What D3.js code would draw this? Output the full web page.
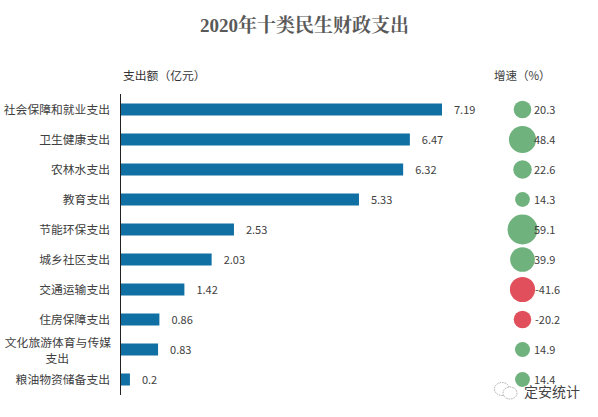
<!DOCTYPE html>
<html><head><meta charset="utf-8">
<script src="https://cdn.jsdelivr.net/npm/d3@7/dist/d3.min.js"></script>
<style>html,body{margin:0;padding:0;background:#fff}svg{display:block}</style></head>
<body><svg id="c" width="598" height="417"></svg>
<script>
const categories=["社会保障和就业支出","卫生健康支出","农林水支出","教育支出","节能环保支出","城乡社区支出","交通运输支出","住房保障支出","文化旅游体育与传媒支出","粮油物资储备支出"];
const spending=[7.19,6.47,6.32,5.33,2.53,2.03,1.42,0.86,0.83,0.2];
const growth=[20.3,48.4,22.6,14.3,59.1,39.9,-41.6,-20.2,14.9,14.4];
const titleText="2020年十类民生财政支出";
const font='"Noto Sans CJK SC","Liberation Sans",sans-serif';
const svg=d3.select("#c");
const x=d3.scaleLinear().domain([0,7.19]).range([121,442]);
const y=d3.scaleBand().domain(categories).range([94.5,394.5]);
const r=d3.scaleSqrt().domain([0,59.1]).range([0,15]);
svg.append("text").attr("x",304.5).attr("y",32).attr("text-anchor","middle")
 .attr("font-family",'"Liberation Serif","Noto Serif CJK SC","Noto Sans CJK SC",serif').attr("font-weight","bold").attr("font-size",19).attr("fill","#595959").text(titleText);
svg.append("text").attr("x",123).attr("y",80).attr("font-family",font).attr("font-size",11.8).attr("fill","#333").text("支出额（亿元）");
svg.append("text").attr("x",494).attr("y",80).attr("font-family",font).attr("font-size",11.5).attr("fill","#404040").text("增速（%）");
svg.selectAll(".bar").data(categories).join("rect").attr("class","bar")
 .attr("x",x(0)).attr("y",d=>y(d)+y.bandwidth()/2-6).attr("height",12)
 .attr("width",(d,i)=>x(spending[i])-x(0)).attr("fill","#106fa3");
svg.append("line").attr("x1",120.5).attr("x2",120.5).attr("y1",94).attr("y2",395).attr("stroke","#222").attr("stroke-width",1);
const labelX=110;
svg.selectAll(".cat").data(categories).join("text").attr("class","cat")
 .attr("text-anchor","end").attr("font-family",font).attr("font-size",11.8).attr("fill","#404040")
 .each(function(d){
  const t=d3.select(this),cy=y(d)+y.bandwidth()/2;
  if(d.length>10){
    t.append("tspan").attr("x",111).attr("y",cy-3).text(d.slice(0,9));
    t.append("tspan").attr("x",69).attr("y",cy+13).text(d.slice(9));
  } else t.append("tspan").attr("x",labelX).attr("y",cy+4.5).text(d);
 });
svg.selectAll(".val").data(categories).join("text").attr("class","val")
 .attr("x",(d,i)=>x(spending[i])+12).attr("y",d=>y(d)+y.bandwidth()/2+4.5)
 .attr("font-family",font).attr("font-size",11).attr("fill","#404040").text((d,i)=>spending[i]);
svg.selectAll(".dot").data(categories).join("circle").attr("class","dot")
 .attr("cx",522.5).attr("cy",d=>y(d)+y.bandwidth()/2)
 .attr("r",(d,i)=>r(Math.abs(growth[i]))).attr("fill",(d,i)=>growth[i]<0?"#e04f5b":"#70b27d");
svg.selectAll(".gr").data(categories).join("text").attr("class","gr")
 .attr("x",(d,i)=>growth[i]<0?535:534).attr("y",d=>y(d)+y.bandwidth()/2+4.5)
 .attr("font-family",font).attr("font-size",11).attr("fill","#404040").text((d,i)=>growth[i]);
// watermark
const wm=svg.append("g").attr("fill","#fff").attr("stroke","#888").attr("stroke-width",.7).attr("stroke-dasharray","1.5 1");
wm.append("ellipse").attr("cx",502).attr("cy",389).attr("rx",7.5).attr("ry",6.5);
wm.append("ellipse").attr("cx",510).attr("cy",393).attr("rx",7).attr("ry",6);
svg.append("text").attr("x",524).attr("y",397).attr("font-family",font).attr("font-size",14).attr("fill","#444").attr("stroke","#fff").attr("stroke-width",1.5).attr("paint-order","stroke").text("定安统计");
</script></body></html>
